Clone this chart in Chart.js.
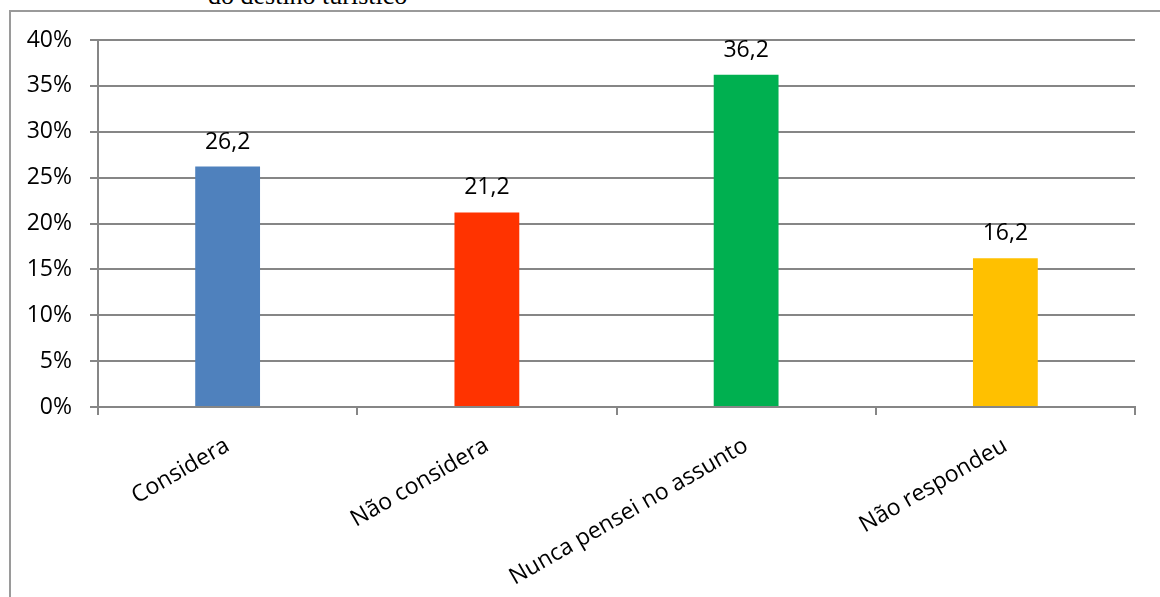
<!DOCTYPE html>
<html>
<head>
<meta charset="utf-8">
<script src="https://cdn.jsdelivr.net/npm/chart.js@4/dist/chart.umd.min.js"></script>
<style>
  html, body { margin: 0; padding: 0; background: #fff; overflow: hidden; }
  body { width: 1160px; height: 597px; position: relative; }
  #frame { position: absolute; left: 9px; top: 10px; width: 1300px; height: 800px;
           border: 2px solid #9a9a9a; box-sizing: border-box; }
  #title { position: absolute; left: 208px; top: -19px; font-family: "Liberation Serif", "Times New Roman", serif;
           font-size: 26px; line-height: 30px; color: #000; white-space: nowrap; }
  #c { position: absolute; left: 0; top: 0; }
</style>
</head>
<body>
<div id="frame"></div>
<div id="title">do destino turístico</div>
<canvas id="c" width="1160" height="597"></canvas>
<script>
const categories = ["Considera", "Não considera", "Nunca pensei no assunto", "Não respondeu"];
const values = [26.2, 21.2, 36.2, 16.2];
const barColors = ["#4F81BD", "#FF3300", "#00B050", "#FFC000"];
const yTicks = [0, 5, 10, 15, 20, 25, 30, 35, 40];

const FONT = "'Open Sans', 'Noto Sans', sans-serif";

const valueLabels = {
  id: 'valueLabels',
  afterDatasetsDraw(chart) {
    const ctx = chart.ctx;
    const meta = chart.getDatasetMeta(0);
    ctx.save();
    ctx.font = "23px " + FONT;
    ctx.fillStyle = "#000";
    ctx.textAlign = "center";
    ctx.textBaseline = "alphabetic";
    meta.data.forEach((bar, i) => {
      const v = chart.data.datasets[0].data[i];
      ctx.fillText(String(v).replace('.', ','), bar.x, bar.y - 18);
    });
    ctx.restore();
  }
};

new Chart(document.getElementById('c'), {
  type: 'bar',
  data: {
    labels: categories,
    datasets: [{
      data: values,
      backgroundColor: barColors,
      borderWidth: 0,
      barPercentage: 0.25,
      categoryPercentage: 1.0
    }]
  },
  options: {
    responsive: false,
    animation: false,
    devicePixelRatio: 1,
    layout: { padding: { left: 0, top: 40, right: 25, bottom: 0 } },
    plugins: { legend: { display: false }, tooltip: { enabled: false } },
    scales: {
      x: {
        offset: true,
        grid: { offset: true, drawOnChartArea: false, drawTicks: true, tickLength: 8, color: '#868686', lineWidth: 2 },
        border: { display: true, color: '#868686', width: 2 },
        ticks: {
          autoSkip: false, minRotation: 30, maxRotation: 30, padding: 17,
          color: '#000', font: { family: FONT, size: 23 }
        },
        afterFit(scale) { scale.height = 190; }
      },
      y: {
        min: 0, max: 40,
        afterBuildTicks(scale) { scale.ticks = yTicks.map(v => ({ value: v })); },
        grid: { color: '#868686', lineWidth: 2, tickLength: 8, drawTicks: true },
        border: { display: true, color: '#868686', width: 2 },
        ticks: {
          padding: 18, color: '#000', font: { family: FONT, size: 23 },
          callback: (v) => v + '%'
        },
        afterFit(scale) { scale.width = 98; }
      }
    }
  },
  plugins: [valueLabels]
});
</script>
</body>
</html>
